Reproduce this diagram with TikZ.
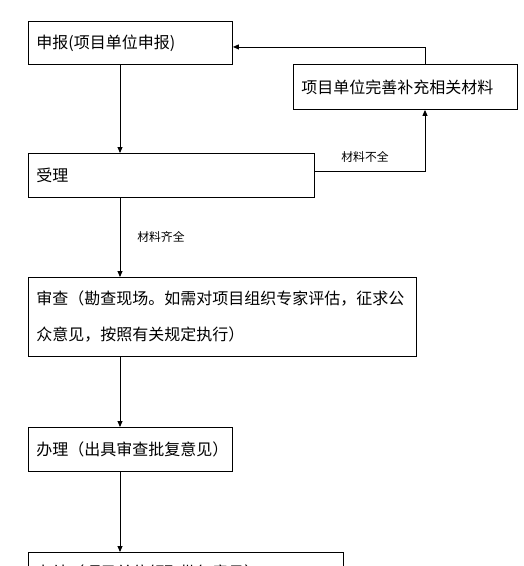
\documentclass[tikz,border=0pt]{standalone}
\usepackage{fontspec}
\newfontfamily\cjk{Noto Sans CJK SC}
\usetikzlibrary{arrows.meta}
\tikzset{
  box/.style={draw, line width=0.9pt, rectangle, anchor=north west, inner xsep=8pt, inner ysep=0pt,
    align=left, font=\cjk\fontsize{16pt}{36pt}\selectfont},
  lbl/.style={font=\cjk\fontsize{11.8pt}{13pt}\selectfont, inner sep=0pt},
  conn/.style={line width=0.9pt},
  arr/.style={conn, -{Triangle[length=6pt,width=5pt]}}
}
\begin{document}
\begin{tikzpicture}[x=1pt,y=-1pt]
\useasboundingbox (0,0) rectangle (524,566);
\clip (0,0) rectangle (524,566);
\fill[white] (0,0) rectangle (524,566);
\coordinate (spine) at (120,0);
\coordinate (rx) at (425,0);
\node[box, text width=188pt, minimum height=43pt] (shenbao) at (28,21) {申报(项目单位申报)};
\node[box, text width=208pt, minimum height=45pt] (buchong) at (293,64) {项目单位完善补充相关材料};
\node[box, text width=270pt, minimum height=44pt] (shouli) at (28,153) {受理};
\node[box, text width=372pt, minimum height=79pt] (shencha) at (28,277) {审查（勘查现场。如需对项目组织专家评估，征求公\\众意见，按照有关规定执行）};
\node[box, text width=188pt, minimum height=44pt] (banli) at (28,427) {办理（出具审查批复意见）};
\node[box, text width=299pt, minimum height=40pt] (banjie) at (28,552) {办结（项目单位领取批复意见）};
\node[lbl] (buquan) at (365,157) {材料不全};
\node[lbl] (qiquan) at (161,237) {材料齐全};
\draw[arr] (shenbao.south -| spine) -- (shouli.north -| spine);
\draw[arr] ([yshift=4pt]shouli.east) -| (buchong.south -| rx);
\draw[arr] (buchong.north -| rx) |- ([yshift=-4pt]shenbao.east);
\draw[arr] (shouli.south -| spine) -- (shencha.north -| spine);
\draw[arr] (shencha.south -| spine) -- (banli.north -| spine);
\draw[arr] (banli.south -| spine) -- (banjie.north -| spine);
\end{tikzpicture}
\end{document}
